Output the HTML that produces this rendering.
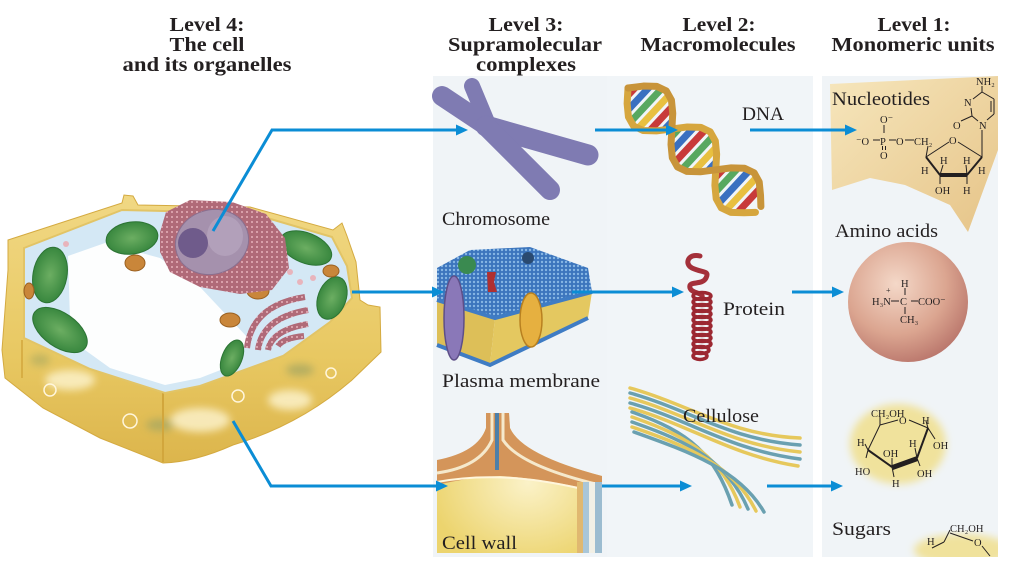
<!DOCTYPE html>
<html><head><meta charset="utf-8"><style>
html,body{margin:0;padding:0;background:#fff;width:1027px;height:571px;overflow:hidden}
svg{display:block}
.h{font-family:"Liberation Serif",serif;font-weight:bold;font-size:20px;fill:#231f20;text-anchor:middle}
.l{font-family:"Liberation Serif",serif;font-size:19px;fill:#231f20}
.c{font-family:"Liberation Serif",serif;font-size:10.5px;fill:#231f20}
</style></head><body>
<svg width="1027" height="571" viewBox="0 0 1027 571" xmlns="http://www.w3.org/2000/svg">
<defs>
<linearGradient id="wallg" x1="0" y1="0" x2="0" y2="1">
 <stop offset="0" stop-color="#f1d884"/><stop offset="0.6" stop-color="#e8c862"/><stop offset="1" stop-color="#dcb54c"/>
</linearGradient>
<radialGradient id="sph" cx="0.4" cy="0.35" r="0.7">
 <stop offset="0" stop-color="#f4d8c8"/><stop offset="0.6" stop-color="#dba590"/><stop offset="1" stop-color="#b8746a"/>
</radialGradient>
<radialGradient id="chl" cx="0.5" cy="0.5" r="0.6">
 <stop offset="0" stop-color="#6cae62"/><stop offset="1" stop-color="#2f8038"/>
</radialGradient>
<linearGradient id="tan" x1="0" y1="0" x2="1" y2="1">
 <stop offset="0" stop-color="#f6e6bc"/><stop offset="1" stop-color="#e6c488"/>
</linearGradient>
<radialGradient id="cwb" cx="0.55" cy="0.5" r="0.6">
 <stop offset="0" stop-color="#fbf2c8"/><stop offset="1" stop-color="#ecd46e"/>
</radialGradient>
<pattern id="er" width="5" height="5" patternUnits="userSpaceOnUse">
 <rect width="5" height="5" fill="#b06a78"/><rect x="1" y="1" width="2" height="2" fill="#d9a0aa"/>
</pattern>
<pattern id="mem" width="4" height="4" patternUnits="userSpaceOnUse">
 <rect width="4" height="4" fill="#3c75bd"/><circle cx="2" cy="2" r="1.2" fill="#86b6e4"/>
</pattern>
<filter id="blur"><feGaussianBlur stdDeviation="4"/></filter>
<filter id="blur1"><feGaussianBlur stdDeviation="1.2"/></filter>
<clipPath id="pan"><rect x="822" y="76" width="176" height="481"/></clipPath>
</defs>

<!-- panels -->
<rect x="433" y="76" width="174" height="481" fill="#f0f4f7"/>
<rect x="607" y="76" width="206" height="481" fill="#f1f5f8"/>
<rect x="822" y="76" width="176" height="481" fill="#f0f4f7"/>

<!-- headers -->
<text class="h" x="207" y="31" textLength="75" lengthAdjust="spacingAndGlyphs">Level 4:</text>
<text class="h" x="207" y="51" textLength="75" lengthAdjust="spacingAndGlyphs">The cell</text>
<text class="h" x="207" y="71" textLength="169" lengthAdjust="spacingAndGlyphs">and its organelles</text>
<text class="h" x="526" y="31" textLength="75" lengthAdjust="spacingAndGlyphs">Level 3:</text>
<text class="h" x="525" y="51" textLength="154" lengthAdjust="spacingAndGlyphs">Supramolecular</text>
<text class="h" x="526" y="71" textLength="100" lengthAdjust="spacingAndGlyphs">complexes</text>
<text class="h" x="719" y="31" textLength="73" lengthAdjust="spacingAndGlyphs">Level 2:</text>
<text class="h" x="718" y="51" textLength="155" lengthAdjust="spacingAndGlyphs">Macromolecules</text>
<text class="h" x="914" y="31" textLength="73" lengthAdjust="spacingAndGlyphs">Level 1:</text>
<text class="h" x="913" y="51" textLength="163" lengthAdjust="spacingAndGlyphs">Monomeric units</text>

<!-- ===== CELL ===== -->
<path d="M8,240 L122,203 L124,195 L133,196 L138,205 L250,207 L333,230 L342,223 L347,236 L356,262 L360,300 L368,305 L380,307 L381,352 L352,380 Q300,425 233,445 Q195,462 163,463 L100,438 L43,408 L5,378 L2,350 L8,270 Z" fill="url(#wallg)" stroke="#d4aa40" stroke-width="1"/>
<g filter="url(#blur)" opacity="0.8">
<ellipse cx="70" cy="380" rx="25" ry="10" fill="#fdf4d0"/>
<ellipse cx="200" cy="420" rx="30" ry="12" fill="#fdf4d0"/>
<ellipse cx="290" cy="400" rx="22" ry="10" fill="#fdf4d0"/>
<ellipse cx="160" cy="425" rx="14" ry="6" fill="#a9a860"/>
<ellipse cx="300" cy="370" rx="14" ry="6" fill="#a9a860"/>
<ellipse cx="40" cy="360" rx="10" ry="6" fill="#b8b060"/>
</g>
<g fill="none" stroke="#fff6dc" stroke-width="1.5">
<circle cx="50" cy="390" r="6"/><circle cx="130" cy="421" r="7"/><circle cx="238" cy="396" r="6"/><circle cx="331" cy="373" r="5"/>
</g>
<path d="M163,393 L163,462" stroke="#d2a63c" stroke-width="2"/>
<path d="M22,340 L22,378" stroke="#d2a63c" stroke-width="1.5"/>
<path d="M24,248 L122,210 L250,213 L332,237 L347,266 L352,298 L330,322 L283,356 L200,386 L165,393 L90,369 L24,338 Z" fill="#d4e8f5" stroke="#e2c466" stroke-width="2"/>
<path d="M68,256 L105,243 L160,258 L200,287 L248,338 L236,364 L200,378 L165,385 L110,368 L85,350 L70,320 Z" fill="#fdfefe"/>
<g fill="url(#chl)" stroke="#2c7434" stroke-width="1">
<ellipse cx="132" cy="238" rx="26" ry="16" transform="rotate(-8 132 238)"/>
<ellipse cx="50" cy="275" rx="17" ry="28" transform="rotate(10 50 275)"/>
<ellipse cx="60" cy="330" rx="31" ry="17" transform="rotate(35 60 330)"/>
<ellipse cx="306" cy="248" rx="27" ry="15" transform="rotate(22 306 248)"/>
<ellipse cx="332" cy="298" rx="14" ry="22" transform="rotate(20 332 298)"/>
<ellipse cx="232" cy="358" rx="10" ry="19" transform="rotate(22 232 358)"/>
</g>
<g fill="#c9863a" stroke="#9a6020" stroke-width="1">
<ellipse cx="135" cy="263" rx="10" ry="8"/>
<ellipse cx="258" cy="291" rx="11" ry="8"/>
<ellipse cx="230" cy="320" rx="10" ry="7"/>
<ellipse cx="331" cy="271" rx="8" ry="6"/>
<ellipse cx="29" cy="291" rx="5" ry="8"/>
</g>
<path d="M160,232 L166,212 L190,200 L232,202 L266,214 L285,238 L289,268 L272,290 L240,294 L200,287 L170,272 L160,252 Z" fill="url(#er)"/>
<ellipse cx="212" cy="242" rx="37" ry="32" transform="rotate(-18 212 242)" fill="#a591ad" stroke="#8a6f8f" stroke-width="1"/>
<ellipse cx="225" cy="236" rx="18" ry="20" fill="#b8a6bf" opacity="0.7"/>
<circle cx="193" cy="243" r="15" fill="#6f5b8b"/>
<g fill="none" stroke="url(#er)" stroke-width="6">
<path d="M247,348 Q252,305 305,297"/>
<path d="M258,350 Q262,318 308,310"/>
<path d="M268,350 Q272,330 308,324"/>
<path d="M278,346 Q283,338 304,336"/>
</g>
<g fill="#e8b4bc">
<circle cx="290" cy="272" r="3"/><circle cx="300" cy="282" r="3"/><circle cx="313" cy="278" r="3"/><circle cx="66" cy="244" r="3"/>
</g>

<!-- ===== LEVEL 3 ===== -->
<g stroke="#7671ad" stroke-linecap="round" fill="none" opacity="0.92">
<path d="M442,96 L484,124" stroke-width="20"/>
<path d="M472,86 L487,122" stroke-width="16"/>
<path d="M486,126 L588,155" stroke-width="21"/>
<path d="M486,126 L550,190" stroke-width="20"/>
</g>
<path d="M437,300 L495,318 L490,365 L437,345 Z" fill="#ddbf58"/>
<path d="M495,318 L592,292 L588,318 L490,365 Z" fill="#e4c860"/>
<path d="M437,345 L490,365 L588,318" fill="none" stroke="#3f7cc4" stroke-width="4"/>
<path d="M437,268 L470,250 L530,247 L588,268 L592,292 L495,318 L437,300 Z" fill="url(#mem)"/>
<path d="M437,300 L495,318 L592,292" fill="none" stroke="#3f7cc4" stroke-width="4"/>
<ellipse cx="454" cy="318" rx="10" ry="42" fill="#8a78b8" stroke="#5e4f88" stroke-width="1.5"/>
<ellipse cx="531" cy="320" rx="11" ry="27" fill="#e6b040" stroke="#b88020" stroke-width="1.5"/>
<circle cx="467" cy="265" r="9" fill="#3a8a50"/>
<circle cx="528" cy="258" r="6" fill="#2a4a70"/>
<path d="M487,272 L496,272 L494,282 L497,292 L488,292 Z" fill="#b03030"/>
<path d="M437,476 L437,462 Q478,452 486,428 L486,413 L509,413 L510,428 Q522,455 602,476 L602,553 L437,553 Z" fill="url(#cwb)"/>
<path d="M437,460 Q478,452 486,428 L486,413 L509,413 L510,428 Q522,455 602,476 L602,492 Q540,478 500,476 Q470,477 437,485 Z" fill="#d4955a"/>
<path d="M437,473 Q480,467 492,440 L492,413" fill="none" stroke="#f5e9cc" stroke-width="3"/>
<path d="M503,413 L503,440 Q520,466 600,485" fill="none" stroke="#f5e9cc" stroke-width="3"/>
<path d="M497,413 L497,470" stroke="#4d7fa8" stroke-width="4"/>
<path d="M437,482 Q500,470 578,488" fill="none" stroke="#fff6dc" stroke-width="2"/>
<rect x="577" y="482" width="6" height="71" fill="#e0b870"/>
<rect x="583" y="482" width="6" height="71" fill="#a9c6d8"/>
<rect x="589" y="482" width="6" height="71" fill="#f2f0e6"/>
<rect x="595" y="482" width="7" height="71" fill="#9cbcd0"/>

<!-- ===== LEVEL 2 ===== -->
<g transform="translate(628,88) rotate(43)">
<g stroke-width="7">
<line x1="5" y1="6" x2="5" y2="-6" stroke="#c83a3a"/>
<line x1="15" y1="16" x2="15" y2="-16" stroke="#3a70c0"/>
<line x1="25" y1="23" x2="25" y2="-23" stroke="#58a860"/>
<line x1="35" y1="23" x2="35" y2="-23" stroke="#e8c040"/>
<line x1="45" y1="17" x2="45" y2="-17" stroke="#c83a3a"/>
<line x1="55" y1="6" x2="55" y2="-6" stroke="#3a70c0"/>
<line x1="65" y1="6" x2="65" y2="-6" stroke="#58a860"/>
<line x1="75" y1="17" x2="75" y2="-17" stroke="#3a70c0"/>
<line x1="85" y1="23" x2="85" y2="-23" stroke="#c83a3a"/>
<line x1="95" y1="23" x2="95" y2="-23" stroke="#58a860"/>
<line x1="105" y1="16" x2="105" y2="-16" stroke="#e8c040"/>
<line x1="115" y1="6" x2="115" y2="-6" stroke="#3a70c0"/>
<line x1="125" y1="6" x2="125" y2="-6" stroke="#c83a3a"/>
<line x1="135" y1="16" x2="135" y2="-16" stroke="#58a860"/>
<line x1="145" y1="23" x2="145" y2="-23" stroke="#3a70c0"/>
<line x1="155" y1="23" x2="155" y2="-23" stroke="#e8c040"/>
<line x1="165" y1="17" x2="165" y2="-17" stroke="#c83a3a"/>
</g>
<polyline points="0,0 10,12 20,20.8 30,24 40,20.8 50,12 60,0 70,-12 80,-20.8 90,-24 100,-20.8 110,-12 120,0 130,12 140,20.8 150,24 160,20.8 170,12 178,4" fill="none" stroke="#d6a63e" stroke-width="7" stroke-linejoin="round" stroke-linecap="round"/>
<polyline points="0,0 10,-12 20,-20.8 30,-24 40,-20.8 50,-12 60,0 70,12 80,20.8 90,24 100,20.8 110,12 120,0 130,-12 140,-20.8 150,-24 160,-20.8 170,-12 178,-4" fill="none" stroke="#c8943a" stroke-width="7" stroke-linejoin="round" stroke-linecap="round"/>
</g>
<path d="M700,256 c-12,-3 -16,8 -8,12 c10,5 18,2 14,10 c-4,8 -18,2 -16,10 c2,6 14,4 12,10" fill="none" stroke="#a4303a" stroke-width="5" stroke-linecap="round"/>
<g fill="none" stroke="#9c2832" stroke-width="3.5">
<ellipse cx="702" cy="296" rx="9" ry="3.5"/><ellipse cx="702" cy="302" rx="9" ry="3.5"/><ellipse cx="702" cy="308" rx="9" ry="3.5"/><ellipse cx="702" cy="314" rx="9" ry="3.5"/><ellipse cx="702" cy="320" rx="9" ry="3.5"/><ellipse cx="702" cy="326" rx="9" ry="3.5"/><ellipse cx="702" cy="332" rx="9" ry="3.5"/><ellipse cx="702" cy="338" rx="9" ry="3.5"/><ellipse cx="702" cy="344" rx="9" ry="3.5"/><ellipse cx="701" cy="350" rx="8" ry="3.5"/><ellipse cx="700" cy="356" rx="7" ry="3.5"/>
</g>
<g fill="none" stroke-width="3.5" stroke-linecap="round">
<path d="M630,388 C690,405 730,435 800,438" stroke="#e6c85c"/>
<path d="M630,393 C690,410 730,440 800,445" stroke="#6aa0b0"/>
<path d="M630,398 C690,415 730,445 800,452" stroke="#e6c85c"/>
<path d="M630,403 C690,420 730,450 800,459" stroke="#6aa0b0"/>
<path d="M630,408 C690,425 730,455 798,466" stroke="#e6c85c"/>
<path d="M632,412 C690,432 715,455 732,505" stroke="#6aa0b0"/>
<path d="M632,417 C690,437 722,458 740,507" stroke="#e6c85c"/>
<path d="M632,422 C690,442 728,462 748,509" stroke="#6aa0b0"/>
<path d="M632,427 C690,447 734,466 756,511" stroke="#e6c85c"/>
<path d="M634,432 C690,452 740,470 764,512" stroke="#6aa0b0"/>
</g>

<!-- ===== LEVEL 1 ===== -->
<polygon points="830,84 998,76 998,150 968,232 950,205 905,185 870,178 832,190" fill="url(#tan)"/>
<circle cx="908" cy="302" r="60" fill="url(#sph)"/>
<g clip-path="url(#pan)">
<ellipse cx="898" cy="444" rx="48" ry="40" fill="#f0e29c" filter="url(#blur)"/>
<ellipse cx="962" cy="550" rx="48" ry="16" fill="#f0e29c" filter="url(#blur)"/>
</g>
<rect x="820" y="557" width="190" height="14" fill="#fff"/>

<g stroke="#231f20" stroke-width="1" fill="none">
<line x1="873" y1="140" x2="880" y2="140"/><line x1="889" y1="140" x2="896" y2="140"/><line x1="905" y1="140" x2="914" y2="140"/>
<line x1="884" y1="125" x2="884" y2="133"/>
<line x1="882.5" y1="146" x2="882.5" y2="150"/><line x1="885.5" y1="146" x2="885.5" y2="150"/>
<line x1="928" y1="146" x2="926" y2="157"/>
<line x1="926" y1="157" x2="949" y2="142"/>
<line x1="958" y1="142" x2="982" y2="157"/>
<line x1="926" y1="157" x2="940" y2="175" stroke-width="2"/>
<line x1="967" y1="175" x2="982" y2="157" stroke-width="2"/>
<line x1="982" y1="130" x2="982" y2="157"/>
<line x1="943" y1="165" x2="940" y2="175"/><line x1="966" y1="165" x2="967" y2="175"/>
<line x1="940" y1="175" x2="940" y2="184"/><line x1="967" y1="175" x2="967" y2="184"/>
<line x1="982" y1="86" x2="982" y2="92"/>
<line x1="982" y1="92" x2="994" y2="99"/>
<line x1="994" y1="99" x2="994" y2="114"/><line x1="991" y1="101" x2="991" y2="112"/>
<line x1="994" y1="114" x2="987" y2="120"/>
<line x1="978" y1="121" x2="972" y2="116"/>
<line x1="972" y1="116" x2="971" y2="108"/>
<line x1="973" y1="99" x2="982" y2="92"/>
<line x1="972" y1="116" x2="961" y2="121"/>
</g>
<line x1="940" y1="175" x2="967" y2="175" stroke="#231f20" stroke-width="4"/>
<g class="c">
<text x="976" y="85">NH₂</text>
<text x="964" y="106">N</text>
<text x="953" y="129">O</text>
<text x="979" y="129">N</text>
<text x="856" y="145">⁻O</text>
<text x="880" y="145">P</text>
<text x="896" y="145">O</text>
<text x="914" y="145">CH₂</text>
<text x="880" y="123">O⁻</text>
<text x="880" y="159">O</text>
<text x="949" y="144">O</text>
<text x="921" y="174">H</text>
<text x="940" y="164">H</text>
<text x="963" y="164">H</text>
<text x="978" y="174">H</text>
<text x="935" y="194">OH</text>
<text x="963" y="194">H</text>
</g>
<g stroke="#231f20" stroke-width="1">
<line x1="905" y1="288" x2="905" y2="295"/><line x1="905" y1="307" x2="905" y2="314"/>
<line x1="891" y1="301" x2="899" y2="301"/><line x1="911" y1="301" x2="918" y2="301"/>
</g>
<g class="c">
<text x="901" y="287">H</text>
<text x="886" y="293" font-size="8">+</text>
<text x="872" y="305">H₃N</text>
<text x="900" y="305">C</text>
<text x="918" y="305">COO⁻</text>
<text x="900" y="323">CH₃</text>
</g>
<g stroke="#231f20" stroke-width="1" fill="none">
<line x1="880" y1="425" x2="898" y2="420"/><line x1="909" y1="420" x2="928" y2="428"/>
<line x1="928" y1="428" x2="917" y2="458" stroke-width="2"/>
<line x1="892" y1="467" x2="868" y2="450" stroke-width="2"/>
<line x1="868" y1="450" x2="880" y2="425"/>
<line x1="880" y1="425" x2="880" y2="417"/>
<line x1="868" y1="450" x2="865" y2="444"/><line x1="868" y1="450" x2="866" y2="458"/>
<line x1="892" y1="467" x2="892" y2="458"/><line x1="892" y1="467" x2="894" y2="477"/>
<line x1="917" y1="458" x2="915" y2="448"/><line x1="917" y1="458" x2="920" y2="466"/>
<line x1="928" y1="428" x2="926" y2="421"/><line x1="928" y1="428" x2="935" y2="439"/>
<line x1="950" y1="530" x2="944" y2="542"/><line x1="944" y1="542" x2="932" y2="548"/><line x1="950" y1="533" x2="973" y2="541"/><line x1="982" y1="546" x2="990" y2="556"/>
</g>
<polygon points="892,465 917,456 918,461 893,470" fill="#231f20"/>
<g class="c" font-size="10">
<text x="871" y="417">CH₂OH</text>
<text x="899" y="424">O</text>
<text x="922" y="424">H</text>
<text x="933" y="449">OH</text>
<text x="857" y="446">H</text>
<text x="855" y="475">HO</text>
<text x="883" y="457">OH</text>
<text x="909" y="447">H</text>
<text x="917" y="477">OH</text>
<text x="892" y="487">H</text>
<text x="950" y="532">CH₂OH</text>
<text x="927" y="545">H</text>
<text x="974" y="546">O</text>
</g>

<text class="l" x="442" y="225" textLength="108" lengthAdjust="spacingAndGlyphs">Chromosome</text>
<text class="l" x="442" y="387" textLength="158" lengthAdjust="spacingAndGlyphs">Plasma membrane</text>
<text class="l" x="442" y="549" textLength="75" lengthAdjust="spacingAndGlyphs">Cell wall</text>
<text class="l" x="742" y="120" textLength="42" lengthAdjust="spacingAndGlyphs">DNA</text>
<text class="l" x="832" y="105" textLength="98" lengthAdjust="spacingAndGlyphs">Nucleotides</text>
<text class="l" x="835" y="237" textLength="103" lengthAdjust="spacingAndGlyphs">Amino acids</text>
<text class="l" x="723" y="315" textLength="62" lengthAdjust="spacingAndGlyphs">Protein</text>
<text class="l" x="683" y="422" textLength="76" lengthAdjust="spacingAndGlyphs">Cellulose</text>
<text class="l" x="832" y="535" textLength="59" lengthAdjust="spacingAndGlyphs">Sugars</text>

<g stroke="#0b8dd5" stroke-width="3" fill="none">
<polyline points="213,231 272,130 458,130"/>
<line x1="595" y1="130" x2="668" y2="130"/>
<line x1="750" y1="130" x2="847" y2="130"/>
<line x1="352" y1="292" x2="434" y2="292"/>
<line x1="572" y1="292" x2="674" y2="292"/>
<line x1="792" y1="292" x2="834" y2="292"/>
<polyline points="233,421 271,486 438,486"/>
<line x1="602" y1="486" x2="682" y2="486"/>
<line x1="767" y1="486" x2="833" y2="486"/>
</g>
<g fill="#0b8dd5">
<polygon points="468,130 456,124.5 456,135.5"/>
<polygon points="678,130 666,124.5 666,135.5"/>
<polygon points="857,130 845,124.5 845,135.5"/>
<polygon points="444,292 432,286.5 432,297.5"/>
<polygon points="684,292 672,286.5 672,297.5"/>
<polygon points="844,292 832,286.5 832,297.5"/>
<polygon points="448,486 436,480.5 436,491.5"/>
<polygon points="692,486 680,480.5 680,491.5"/>
<polygon points="843,486 831,480.5 831,491.5"/>
</g>
</svg>
</body></html>
